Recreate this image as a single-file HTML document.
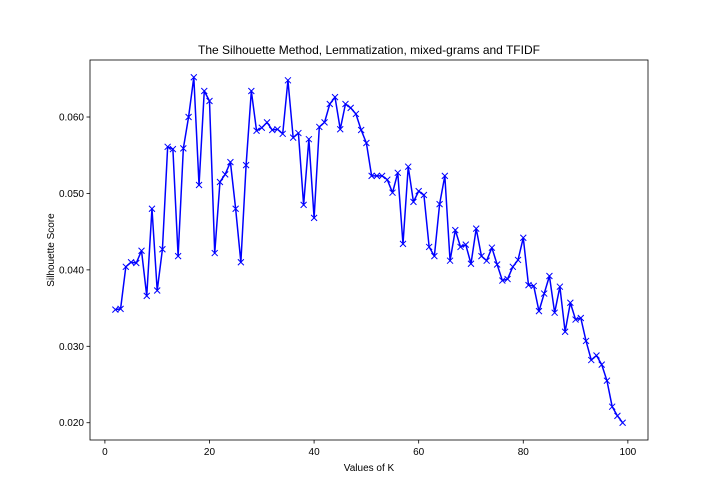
<!DOCTYPE html>
<html><head><meta charset="utf-8"><style>
body{margin:0;background:#fff;}
svg{display:block;font-family:"Liberation Sans","DejaVu Sans",sans-serif;}
</style></head><body>
<svg id="chart" width="720" height="504">
<text x="369" y="54" text-anchor="middle" font-size="12">The Silhouette Method, Lemmatization, mixed-grams and TFIDF</text>
<text x="369" y="471" text-anchor="middle" font-size="10">Values of K</text>
<text transform="translate(54,250) rotate(-90)" text-anchor="middle" font-size="10">Silhouette Score</text>
<g id="marks"></g>
<rect x="90" y="60" width="558" height="380" fill="none" stroke="#000" stroke-width="0.8"/>
</svg>
<script>
const kValues = [];
for (let k = 2; k <= 99; k++) kValues.push(k);
const scores = [0.0348,0.0349,0.0404,0.0410,0.0409,0.0425,0.0366,0.0480,0.0373,0.0427,
0.0561,0.0558,0.0418,0.0559,0.0600,0.0652,0.0511,0.0634,0.0621,0.0422,
0.0515,0.0525,0.0541,0.0480,0.0410,0.0537,0.0634,0.0582,0.0586,0.0593,
0.0583,0.0584,0.0578,0.0648,0.0573,0.0579,0.0485,0.0571,0.0468,0.0587,
0.0593,0.0617,0.0626,0.0584,0.0617,0.0612,0.0604,0.0583,0.0566,0.0523,
0.0523,0.0523,0.0518,0.0501,0.0527,0.0434,0.0535,0.0489,0.0503,0.0498,
0.0430,0.0418,0.0486,0.0523,0.0412,0.0452,0.0430,0.0433,0.0408,0.0454,
0.0418,0.0412,0.0429,0.0407,0.0386,0.0388,0.0404,0.0413,0.0442,0.0380,
0.0379,0.0346,0.0369,0.0392,0.0344,0.0378,0.0319,0.0357,0.0335,0.0337,
0.0307,0.0282,0.0288,0.0276,0.0255,0.0221,0.0209,0.0200];
const xTicks = [0,20,40,60,80,100];
const yTicks = [0.020,0.030,0.040,0.050,0.060];

const L=90,R=648,T=60,B=440;
const xmin=Math.min(...kValues),xmax=Math.max(...kValues);
const xpad=(xmax-xmin)*0.05;
const ymin=Math.min(...scores),ymax=Math.max(...scores);
const ypad=(ymax-ymin)*0.05;
const X=v=>L+(v-(xmin-xpad))/((xmax+xpad)-(xmin-xpad))*(R-L);
const Y=v=>B-(v-(ymin-ypad))/((ymax+ypad)-(ymin-ypad))*(B-T);
const NS="http://www.w3.org/2000/svg";
const g=document.getElementById('marks');
function mk(tag,attrs){const e=document.createElementNS(NS,tag);for(const k in attrs)e.setAttribute(k,attrs[k]);g.appendChild(e);return e;}

xTicks.forEach(t=>{
  const x=X(t);
  const tk=mk('line',{x1:x,x2:x,y1:B,y2:B+3.5,stroke:'#000','stroke-width':0.8});
  
  
  const tx=mk('text',{x:x,y:B+15,'text-anchor':'middle','font-size':10});
  tx.textContent=t;
  
  
});
yTicks.forEach(t=>{
  const y=Y(t);
  const tk=mk('line',{x1:L-3.5,x2:L,y1:y,y2:y,stroke:'#000','stroke-width':0.8});
  
  
  const tx=mk('text',{x:L-6,y:y+3.5,'text-anchor':'end','font-size':10});
  tx.textContent=t.toFixed(3);
  
  
});
const pts=kValues.map((k,i)=>X(k).toFixed(2)+','+Y(scores[i]).toFixed(2)).join(' ');
const line=mk('polyline',{points:pts,fill:'none',stroke:'#0000ff','stroke-width':1.5,'stroke-linejoin':'round'});


kValues.forEach((k,i)=>{
  const x=X(k),y=Y(scores[i]),s=3;
  const p=mk('path',{d:`M${x-s},${y-s}L${x+s},${y+s}M${x-s},${y+s}L${x+s},${y-s}`,stroke:'#0000ff','stroke-width':1});
  
  
});
</script>
</body></html>
